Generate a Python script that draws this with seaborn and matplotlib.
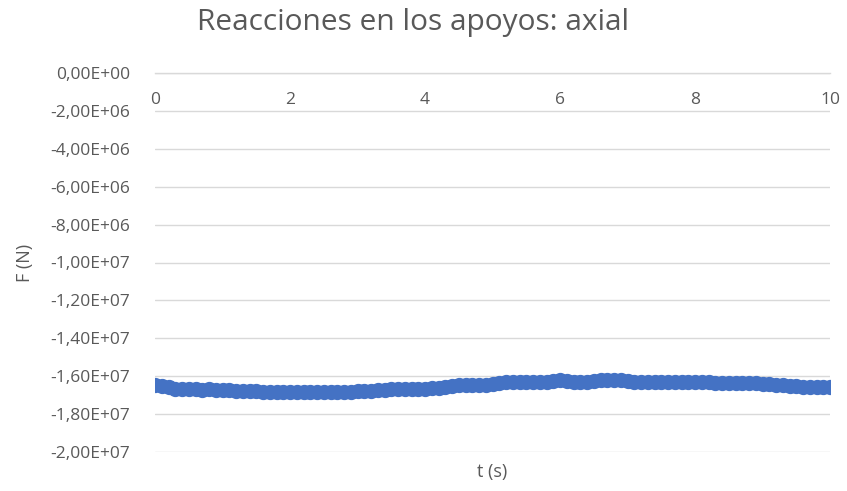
import numpy as np
import pandas as pd
import matplotlib
matplotlib.use("Agg")
import matplotlib.pyplot as plt
import seaborn as sns
from matplotlib.ticker import FuncFormatter, MultipleLocator

t_s = [0.0, 0.1, 0.2, 0.3, 0.4, 0.5, 0.6, 0.7, 0.8, 0.9,
       1.0, 1.1, 1.2, 1.3, 1.4, 1.5, 1.6, 1.7, 1.8, 1.9,
       2.0, 2.1, 2.2, 2.3, 2.4, 2.5, 2.6, 2.7, 2.8, 2.9,
       3.0, 3.1, 3.2, 3.3, 3.4, 3.5, 3.6, 3.7, 3.8, 3.9,
       4.0, 4.1, 4.2, 4.3, 4.4, 4.5, 4.6, 4.7, 4.8, 4.9,
       5.0, 5.1, 5.2, 5.3, 5.4, 5.5, 5.6, 5.7, 5.8, 5.9,
       6.0, 6.1, 6.2, 6.3, 6.4, 6.5, 6.6, 6.7, 6.8, 6.9,
       7.0, 7.1, 7.2, 7.3, 7.4, 7.5, 7.6, 7.7, 7.8, 7.9,
       8.0, 8.1, 8.2, 8.3, 8.4, 8.5, 8.6, 8.7, 8.8, 8.9,
       9.0, 9.1, 9.2, 9.3, 9.4, 9.5, 9.6, 9.7, 9.8, 9.9, 10.0]

# axial reaction, in millions of newtons
f_mn = [-16.45, -16.50, -16.58, -16.65, -16.68, -16.70, -16.68, -16.72, -16.70, -16.72,
        -16.74, -16.75, -16.76, -16.78, -16.78, -16.80, -16.82, -16.84, -16.85, -16.86,
        -16.86, -16.86, -16.85, -16.84, -16.83, -16.84, -16.86, -16.86, -16.84, -16.82,
        -16.80, -16.78, -16.76, -16.74, -16.72, -16.70, -16.69, -16.68, -16.68, -16.67,
        -16.66, -16.64, -16.60, -16.55, -16.50, -16.45, -16.45, -16.46, -16.46, -16.45,
        -16.42, -16.36, -16.32, -16.30, -16.30, -16.30, -16.30, -16.29, -16.28, -16.24,
        -16.20, -16.25, -16.29, -16.30, -16.28, -16.25, -16.22, -16.20, -16.20, -16.21,
        -16.26, -16.29, -16.30, -16.30, -16.30, -16.30, -16.30, -16.30, -16.30, -16.30,
        -16.30, -16.31, -16.32, -16.34, -16.36, -16.37, -16.37, -16.37, -16.37, -16.38,
        -16.39, -16.40, -16.44, -16.48, -16.52, -16.54, -16.55, -16.55, -16.55, -16.55, -16.55]

x_ticks = [0, 2, 4, 6, 8, 10]
title = "Reacciones en los apoyos: axial"
x_label = "t (s)"
y_label = "F (N)"

df = pd.DataFrame({"t": t_s, "F": np.array(f_mn) * 1e6})

sns.set_theme(style="white")
plt.rcParams["font.family"] = ["Open Sans", "DejaVu Sans"]

fig = plt.figure(figsize=(8.47, 4.91), dpi=100)
ax = fig.add_axes([155 / 847, 1 - 452 / 491, (830 - 155) / 847, (452 - 73) / 491])

blue = "#4472C4"
sns.lineplot(data=df, x="t", y="F", ax=ax, color=blue, linewidth=8,
             marker="o", markersize=11, markeredgecolor=blue, markeredgewidth=0,
             zorder=3)

ax.set_xlim(0, 10)
ax.set_ylim(-2e7, 0)
ax.set_xticks(x_ticks)
ax.yaxis.set_major_locator(MultipleLocator(2e6))

def sci_fmt(v, pos):
    if abs(v) < 1:
        return "0,00E+00"
    s = f"{v:.2E}"
    mant, exp = s.split("E")
    sign = exp[0]
    e = int(exp[1:])
    return f"{mant.replace('.', ',')}E{sign}{e:02d}"

ax.yaxis.set_major_formatter(FuncFormatter(sci_fmt))
ax.grid(axis="y", color="#d9d9d9", linewidth=1)
ax.grid(axis="x", visible=False)
for s in ["left", "right", "top"]:
    ax.spines[s].set_visible(False)
ax.spines["bottom"].set_position(("data", 0))
ax.spines["bottom"].set_color("#d9d9d9")
ax.spines["bottom"].set_linewidth(1)

ax.tick_params(axis="both", length=0, labelsize=12.5, labelcolor="#595959")
ax.tick_params(axis="x", pad=14)
ax.tick_params(axis="y", pad=18)

ax.set_xlabel(x_label, fontsize=13, color="#595959")
ax.xaxis.set_label_coords(0.5, -0.03)
ax.set_ylabel(y_label, fontsize=13, color="#595959")
ax.yaxis.set_label_coords(-0.18, 0.5)

fig.suptitle(title, x=413 / 847, y=1 - 8 / 491, va="top", fontsize=21.5, color="#595959")

fig.savefig("out.png", dpi=100, facecolor="white")
